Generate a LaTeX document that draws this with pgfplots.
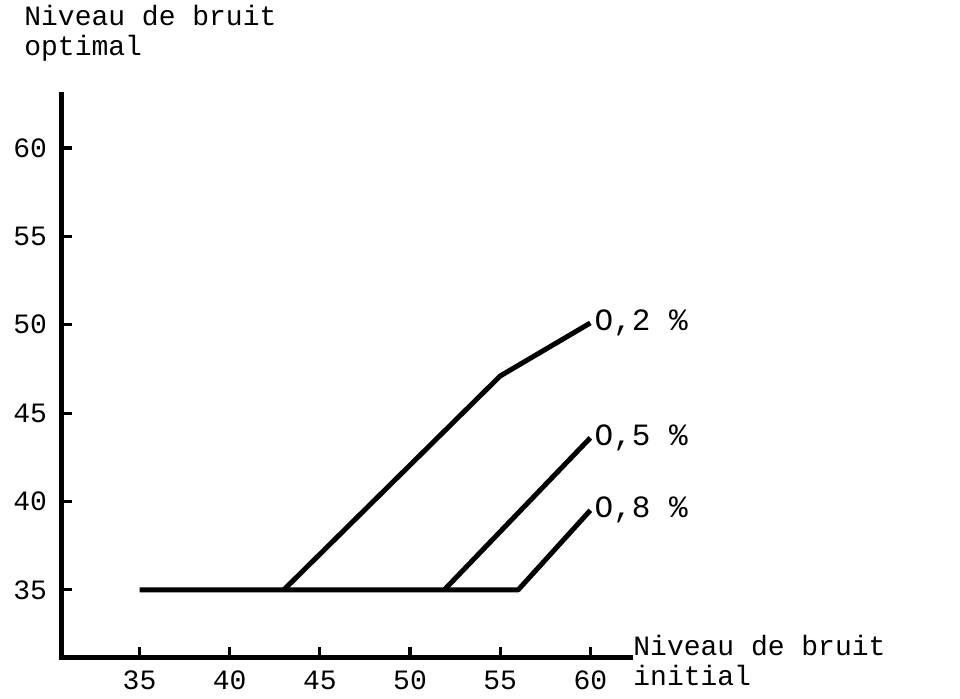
\documentclass[border=0pt]{standalone}
\usepackage{pgfplots}
\pgfplotsset{compat=1.18}
\usepackage{fontspec}
\setmainfont{Liberation Mono}
\begin{document}
\begin{tikzpicture}
\path[use as bounding box] (-31pt,-20.5pt) rectangle (449pt,328.5pt);
\begin{axis}[
  scale only axis,
  width=284pt, height=281pt,
  xmin=30.7, xmax=62.2, ymin=31.2, ymax=63,
  axis x line=bottom, axis y line=left,
  axis line style={-, line width=2.5pt, line cap=rect},
  xtick={35,40,45,50,55,60}, ytick={35,40,45,50,55,60},
  tick align=inside,
  major tick length=5pt,
  tick style={line width=1.6pt, black},
  /pgf/number format/assume math mode=true,
  ticklabel style={font=\fontsize{14}{14}\selectfont},
  xticklabel style={yshift=-3.5pt},
  yticklabel style={xshift=-4pt},
  clip=false,
]
\addplot[black, line width=2.5pt, line join=round] coordinates {(35,35) (56,35) (60,39.5)};
\addplot[black, line width=2.5pt, line join=round] coordinates {(43,35) (55,47.1) (60,50.1)};
\addplot[black, line width=2.5pt, line join=round] coordinates {(51.9,35) (60,43.6)};
\node[anchor=west, inner sep=2pt, font=\fontsize{15.5}{15.5}\selectfont] at (axis cs:60,50.1) {O,2 \%};
\node[anchor=west, inner sep=2pt, font=\fontsize{15.5}{15.5}\selectfont] at (axis cs:60,43.6) {O,5 \%};
\node[anchor=west, inner sep=2pt, font=\fontsize{15.5}{15.5}\selectfont] at (axis cs:60,39.5) {O,8 \%};
\end{axis}
\node[anchor=north west, align=left, inner sep=0pt, font=\fontsize{14}{15}\selectfont] at (-19pt,326pt) {Niveau de bruit\\optimal};
\node[anchor=north west, align=left, inner sep=0pt, font=\fontsize{14}{15}\selectfont] at (285.5pt,11pt) {Niveau de bruit\\initial};
\end{tikzpicture}
\end{document}
